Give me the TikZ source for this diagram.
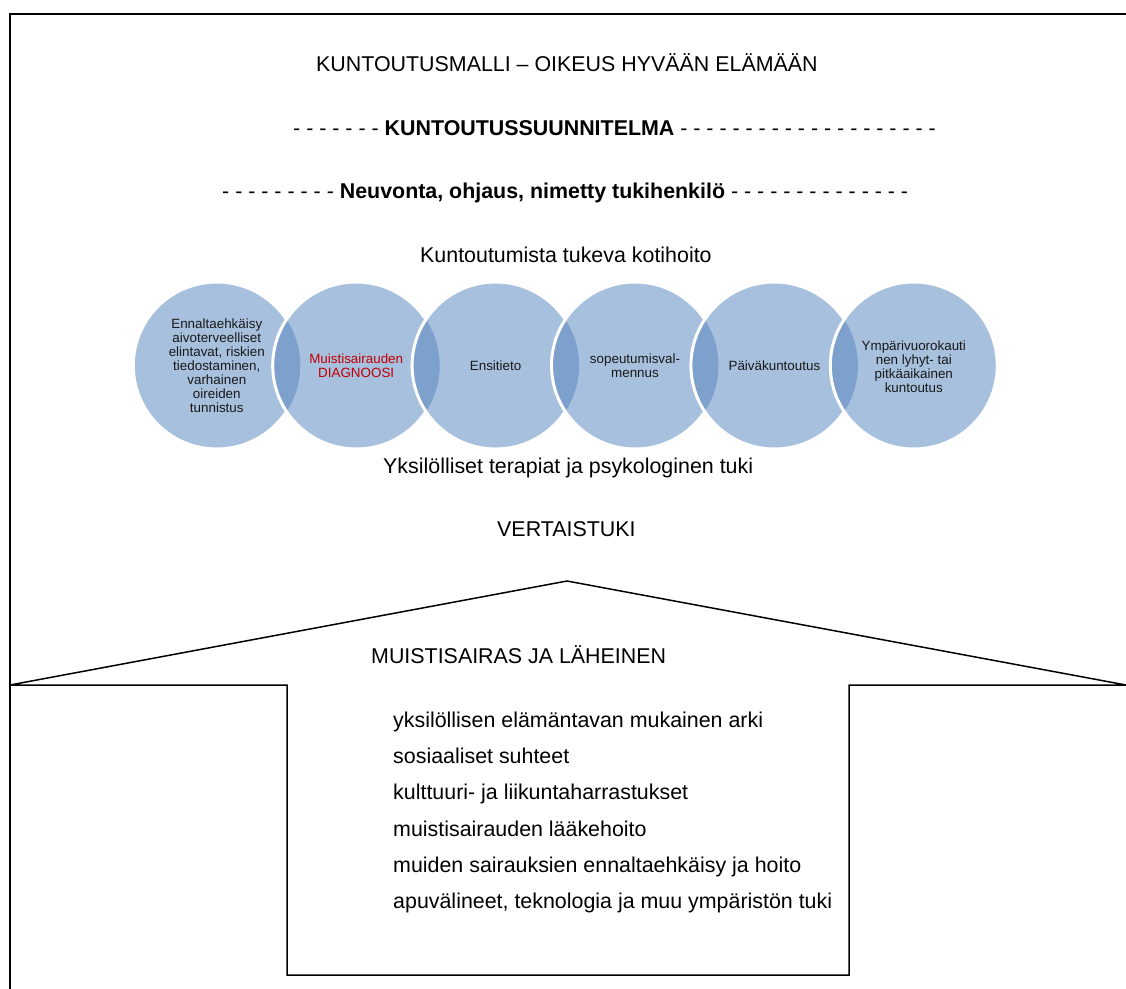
\documentclass[tikz,border=0pt]{standalone}
\usepackage{fontspec}
\setmainfont{Liberation Sans}
\definecolor{vbase}{RGB}{167,192,222}
\definecolor{vlens}{RGB}{125,160,204}
\definecolor{dred}{RGB}{192,0,0}
\begin{document}
\begin{tikzpicture}[x=1pt,y=-1pt,
  txt/.style={font=\fontsize{21.4}{25}\selectfont, inner sep=0pt, anchor=base west},
  ctxt/.style={font=\fontsize{13.4}{14}\selectfont, align=center, text=black!90, inner sep=0pt},
  frameline/.style={line width=2pt},
  houseline/.style={line width=1.5pt, line join=miter},
  ring/.style={white, line width=3pt}]
\useasboundingbox (0,0) rectangle (1126,988);
\clip (0,0) rectangle (1126,988);

% outer frame
\coordinate (fb) at (10,1000);
\coordinate (ftl) at (10,14);
\coordinate (ftr) at (1140,14);
\draw[frameline] (fb) -- (ftl) -- (ftr);

% texts
\node[txt] (title) at (316,71) {KUNTOUTUSMALLI – OIKEUS HYVÄÄN ELÄMÄÄN};
\node[txt] (plan) at (293,135) {- - - - - - - \textbf{KUNTOUTUSSUUNNITELMA} - - - - - - - - - - - - - - - - - - - -};
\node[txt] (neuv) at (222,198) {- - - - - - - - - \textbf{Neuvonta, ohjaus, nimetty tukihenkilö} - - - - - - - - - - - - - -};
\node[txt] (koti) at (420,262) {Kuntoutumista tukeva kotihoito};
\node[txt] (yks) at (383,473) {Yksilölliset terapiat ja psykologinen tuki};
\node[txt] (vert) at (497,536) {VERTAISTUKI};

% circles
\def\R{83.5pt}
\coordinate (c1) at (216.8,365.5);
\coordinate (c2) at (356.2,365.5);
\coordinate (c3) at (495.6,365.5);
\coordinate (c4) at (635.0,365.5);
\coordinate (c5) at (774.4,365.5);
\coordinate (c6) at (913.8,365.5);
\fill[vbase] (c1) circle (\R);
\draw[ring] (c1) circle (\R);
\foreach \i/\j in {2/1,3/2,4/3,5/4,6/5}{
  \fill[vbase] (c\i) circle (\R);
  \begin{scope}
    \clip (c\j) circle (\R);
    \fill[vlens] (c\i) circle (\R);
  \end{scope}
  \draw[ring] (c\i) circle (\R);
}
\node[ctxt] (t1) at (c1) {Ennaltaehkäisy\\aivoterveelliset\\elintavat, riskien\\tiedostaminen,\\varhainen\\oireiden\\tunnistus};
\node[ctxt, text=dred] (t2) at (c2) {Muistisairauden\\DIAGNOOSI};
\node[ctxt] (t3) at (c3) {Ensitieto};
\node[ctxt] (t4) at (c4) {sopeutumisval-\\mennus};
\node[ctxt] (t5) at (c5) {Päiväkuntoutus};
\node[ctxt] (t6) at ([yshift=-1]c6) {Ympärivuorokauti\\nen lyhyt- tai\\pitkäaikainen\\kuntoutus};

% house
\coordinate (hl) at (10,685);
\coordinate (ha) at (567,581);
\coordinate (hr) at (1126,685);
\coordinate (hlr) at (287,685);
\coordinate (hlb) at (287,975);
\coordinate (hrb) at (849,975);
\coordinate (hrl) at (849,685);
\draw[houseline] (hl) -- (ha) -- (hr) -- (hrl) -- (hrb) -- (hlb) -- (hlr) -- cycle;

\node[txt] (mja) at (371,663) {MUISTISAIRAS JA LÄHEINEN};
\node[txt] (l1) at (393,727) {yksilöllisen elämäntavan mukainen arki};
\node[txt] (l2) at (393,763) {sosiaaliset suhteet};
\node[txt] (l3) at (393,799) {kulttuuri- ja liikuntaharrastukset};
\node[txt] (l4) at (393,836) {muistisairauden lääkehoito};
\node[txt] (l5) at (393,872) {muiden sairauksien ennaltaehkäisy ja hoito};
\node[txt] (l6) at (393,908) {apuvälineet, teknologia ja muu ympäristön tuki};
\end{tikzpicture}
\end{document}
